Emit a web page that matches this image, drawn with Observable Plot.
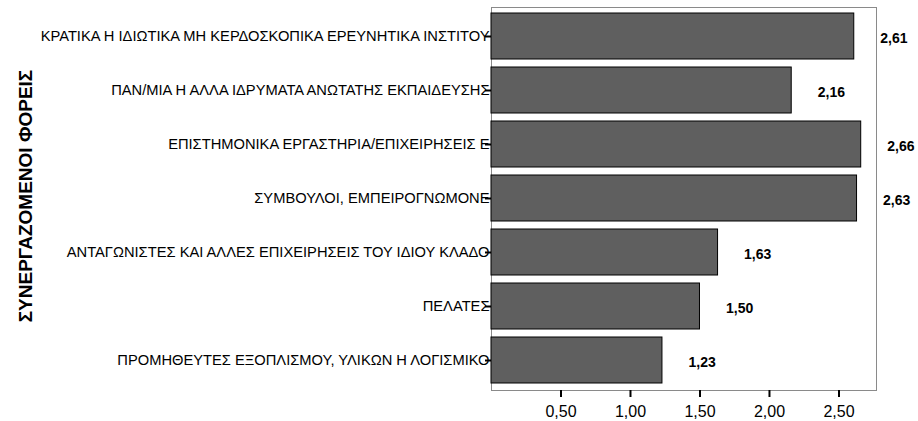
<!DOCTYPE html>
<html>
<head>
<meta charset="utf-8">
<script src="https://cdn.jsdelivr.net/npm/d3@7"></script>
<script src="https://cdn.jsdelivr.net/npm/@observablehq/plot@0.6"></script>
<style>
  html, body { margin: 0; padding: 0; background: #fff; }
  svg { display: block; }
</style>
</head>
<body>
<div id="chart"></div>
<script>
const categories = [
  "ΚΡΑΤΙΚΑ Η ΙΔΙΩΤΙΚΑ ΜΗ ΚΕΡΔΟΣΚΟΠΙΚΑ ΕΡΕΥΝΗΤΙΚΑ ΙΝΣΤΙΤΟΥ",
  "ΠΑΝ/ΜΙΑ Η ΑΛΛΑ ΙΔΡΥΜΑΤΑ ΑΝΩΤΑΤΗΣ ΕΚΠΑΙΔΕΥΣΗΣ",
  "ΕΠΙΣΤΗΜΟΝΙΚΑ ΕΡΓΑΣΤΗΡΙΑ/ΕΠΙΧΕΙΡΗΣΕΙΣ Ε",
  "ΣΥΜΒΟΥΛΟΙ, ΕΜΠΕΙΡΟΓΝΩΜΟΝΕ",
  "ΑΝΤΑΓΩΝΙΣΤΕΣ ΚΑΙ ΑΛΛΕΣ ΕΠΙΧΕΙΡΗΣΕΙΣ ΤΟΥ ΙΔΙΟΥ ΚΛΑΔΟ",
  "ΠΕΛΑΤΕΣ",
  "ΠΡΟΜΗΘΕΥΤΕΣ ΕΞΟΠΛΙΣΜΟΥ, ΥΛΙΚΩΝ Η ΛΟΓΙΣΜΙΚΟ"
];
const values = [2.61, 2.16, 2.66, 2.63, 1.63, 1.50, 1.23];
const xTicks = [0.5, 1.0, 1.5, 2.0, 2.5];
const yTitle = "ΣΥΝΕΡΓΑΖΟΜΕΝΟΙ ΦΟΡΕΙΣ";

const data = categories.map((c, i) => ({category: c, value: values[i]}));
const fmt = v => v.toFixed(2).replace(".", ",");

const chart = Plot.plot({
  width: 918,
  height: 421,
  marginLeft: 491,
  marginRight: 42,
  marginTop: 7,
  marginBottom: 31,
  style: {fontFamily: "'Liberation Sans', Arial, sans-serif", background: "#fff", color: "#000"},
  x: {domain: [0, 2.77]},
  y: {domain: categories, paddingInner: 0.14, paddingOuter: 0.07},
  marks: [
    Plot.frame({stroke: "#8a8a8a", strokeWidth: 1}),
    Plot.barX(data, {x: "value", y: "category", fill: "#5f5f5f", stroke: "#000", strokeWidth: 1}),
    Plot.text(data, {x: "value", y: "category", text: d => fmt(d.value), dx: 26, dy: 2,
      textAnchor: "start", fontWeight: "bold", fontSize: 14, fill: "#000"}),
    Plot.axisY({tickSize: 0, tickPadding: 2, fontSize: 14.7, label: null, fill: "#000"}),
    Plot.axisY({tickSize: 6, tickFormat: () => "", strokeWidth: 2, stroke: "#000", label: null}),
    Plot.axisX({ticks: xTicks, tickFormat: fmt, tickSize: 7, tickPadding: 8, strokeWidth: 2,
      fontSize: 16, label: null, fill: "#000", stroke: "#000"}),
    Plot.text([yTitle], {frameAnchor: "left", dx: -466, rotate: -90, textAnchor: "middle",
      fontWeight: "bold", fontSize: 19, fill: "#000", dy: -3})
  ]
});
document.getElementById("chart").appendChild(chart);
</script>
</body>
</html>
